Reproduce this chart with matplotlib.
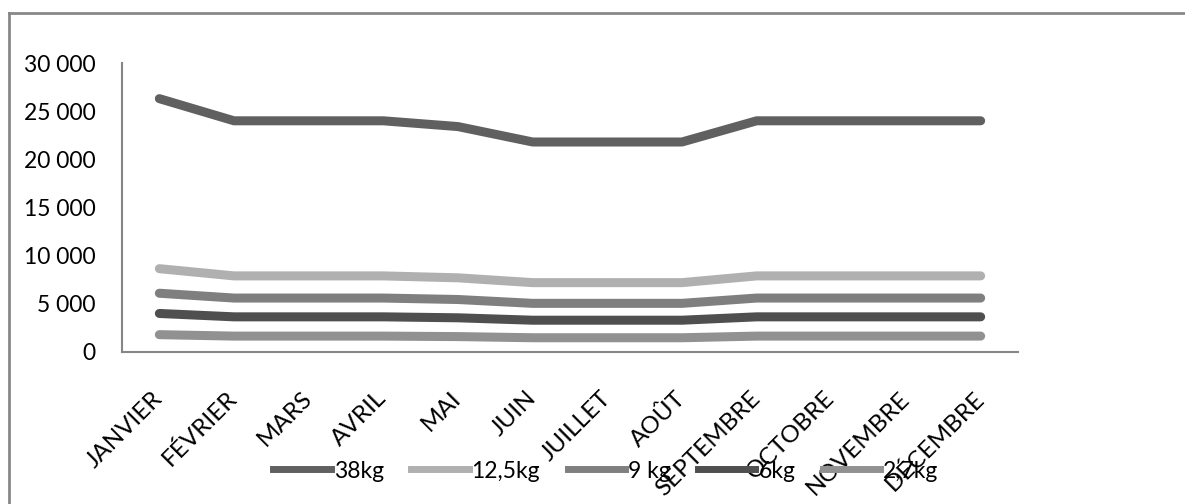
import matplotlib.pyplot as plt
from matplotlib.lines import Line2D
from matplotlib.ticker import FuncFormatter

plt.rcParams['font.family'] = ['Lato', 'DejaVu Sans']

mois = ['JANVIER', 'FÉVRIER', 'MARS', 'AVRIL', 'MAI', 'JUIN', 'JUILLET',
        'AOÛT', 'SEPTEMBRE', 'OCTOBRE', 'NOVEMBRE', 'DÉCEMBRE']

b38 = [26300, 24000, 24000, 24000, 23400, 21800, 21800, 21800, 24000, 24000, 24000, 24000]
b125 = [8650, 7900, 7900, 7900, 7700, 7200, 7200, 7200, 7900, 7900, 7900, 7900]
b9 = [6100, 5600, 5600, 5600, 5450, 5050, 5050, 5050, 5600, 5600, 5600, 5600]
b6 = [4000, 3650, 3650, 3650, 3550, 3300, 3300, 3300, 3650, 3650, 3650, 3650]
b27 = [1800, 1650, 1650, 1650, 1600, 1480, 1480, 1480, 1650, 1650, 1650, 1650]

series = [('38kg', b38, '#606060'), ('12,5kg', b125, '#b0b0b0'),
          ('9 kg', b9, '#7f7f7f'), ('6kg', b6, '#4f4f4f'), ('2,7kg', b27, '#919191')]

fig = plt.figure(figsize=(11.85, 5.04), dpi=100)
ax = fig.add_axes([122/1185, 1-352/504, (1018-122)/1185, (352-63)/504])

x = range(len(mois))
for name, vals, col in series:
    ax.plot(x, vals, color=col, lw=6.5, solid_capstyle='round',
            solid_joinstyle='round', label=name)

ax.set_xlim(-0.5, 11.5)
ax.set_ylim(0, 30000)
ax.set_yticks(range(0, 30001, 5000))
ax.yaxis.set_major_formatter(FuncFormatter(lambda v, p: f'{int(v):,}'.replace(',', ' ')))
ax.set_xticks(list(x))
ax.set_xticklabels(mois, rotation=45, ha='right', va='center', rotation_mode='anchor')

for s in ['top', 'right']:
    ax.spines[s].set_visible(False)
for s in ['left', 'bottom']:
    ax.spines[s].set_color('#868686')
    ax.spines[s].set_linewidth(1.5)
ax.tick_params(axis='y', length=0, labelsize=16.5, pad=19)
ax.tick_params(axis='x', length=0, labelsize=17.5, pad=31)

handles = [Line2D([], [], color=c, lw=5) for _, _, c in series]
fig.legend(handles, [n for n, _, _ in series], loc='center',
           bbox_to_anchor=(606/1185, 1-471/504), ncol=5, frameon=False,
           fontsize=16.5, handlelength=2.5, handletextpad=0.13, columnspacing=1.2,
           borderpad=0, borderaxespad=0)

# cadre gris du graphique
fig.add_artist(Line2D([9/1185, 1], [1-13/504, 1-13/504], color='#888888', lw=2))
fig.add_artist(Line2D([9/1185, 9/1185], [0, 1-13/504], color='#888888', lw=2))

fig.savefig('out.png', dpi=100)
